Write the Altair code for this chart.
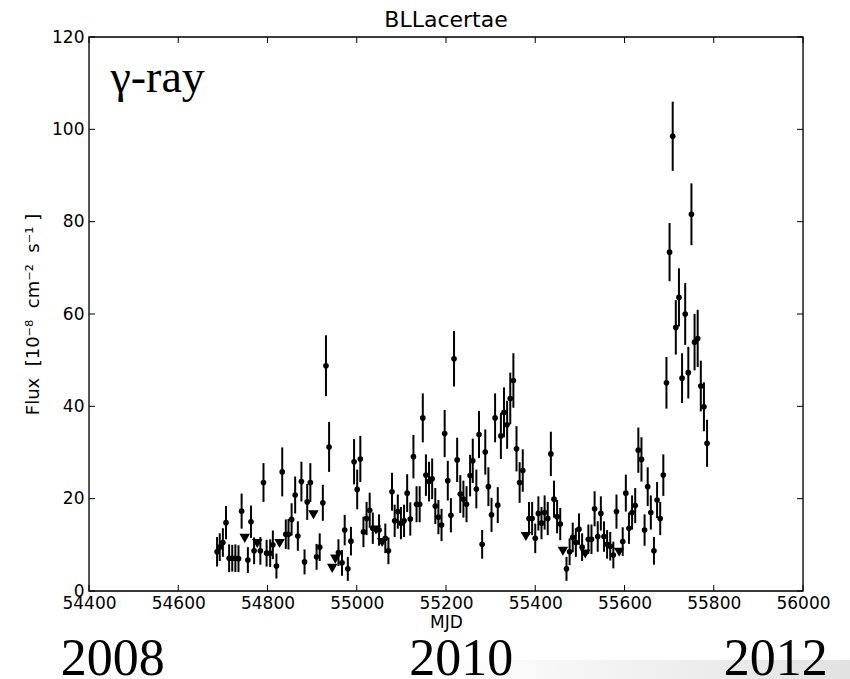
import altair as alt
import pandas as pd

# ---- data ----
det_mjd = [54687, 54693, 54700, 54707, 54714, 54721, 54728, 54735, 54742, 54756,
           54763, 54770, 54784, 54791, 54798, 54806, 54812, 54820, 54833, 54841,
           54847, 54854, 54862, 54868, 54876, 54883, 54889, 54896, 54910, 54917,
           54924, 54931, 54938, 54959, 54967, 54973, 54980, 54987, 54994, 55001,
           55008, 55015, 55022, 55029, 55036, 55050, 55064, 55071, 55079, 55085,
           55092, 55099, 55106, 55113, 55120, 55127, 55134, 55141, 55148, 55155,
           55162, 55169, 55176, 55183, 55190, 55197, 55204, 55211, 55218, 55225,
           55232, 55239, 55246, 55254, 55260, 55268, 55274, 55281, 55288, 55295,
           55302, 55310, 55316, 55323, 55330, 55337, 55344, 55351, 55358, 55365,
           55372, 55386, 55393, 55400, 55407, 55414, 55421, 55428, 55435, 55442,
           55449, 55456, 55470, 55477, 55484, 55491, 55498, 55505, 55519, 55526,
           55533, 55540, 55547, 55554, 55561, 55568, 55575, 55582, 55596, 55603,
           55610, 55617, 55624, 55631, 55638, 55645, 55652, 55659, 55666, 55673,
           55680, 55687, 55694, 55701, 55708, 55715, 55722, 55729, 55736, 55743,
           55750, 55757, 55764, 55771, 55778, 55785]
det_flux = [8.5, 9.5, 10.5, 14.8, 7.1, 7.1, 7.1, 7.0, 17.3, 6.7,
            15.0, 8.7, 8.7, 23.5, 8.2, 8.2, 10.0, 5.4, 25.8, 12.3,
            12.3, 15.5, 20.8, 11.9, 23.7, 6.3, 19.3, 23.5, 7.4, 9.5,
            19.1, 48.8, 31.2, 8.3, 6.1, 13.2, 4.8, 10.8, 28.0, 22.0,
            28.6, 12.8, 15.7, 17.5, 13.6, 13.2, 11.4, 8.7, 21.5, 15.2,
            17.2, 14.7, 15.2, 21.2, 15.6, 29.1, 18.8, 18.8, 37.5, 25.1,
            23.7, 24.3, 18.4, 16.0, 14.3, 34.1, 23.9, 16.4, 50.3, 28.4,
            21.0, 19.9, 18.8, 25.0, 28.2, 22.1, 33.9, 10.1, 30.1, 22.6,
            16.5, 37.5, 18.6, 33.6, 38.7, 36.0, 41.7, 45.6, 30.8, 23.5,
            26.1, 15.7, 15.7, 11.4, 16.8, 14.7, 17.0, 15.7, 29.7, 19.9,
            16.1, 14.5, 4.8, 8.5, 11.6, 10.5, 13.4, 9.5, 11.2, 11.2,
            17.8, 11.8, 16.8, 11.8, 10.1, 9.7, 7.8, 17.2, 10.7, 21.2,
            13.6, 17.0, 18.5, 30.5, 28.5, 13.2, 22.6, 17.0, 8.7, 19.7,
            15.7, 25.1, 45.1, 73.4, 98.5, 57.1, 63.6, 46.1, 60.0, 47.3,
            81.6, 53.9, 54.7, 44.4, 39.9, 32.0]
det_err = [3.2, 3.0, 3.1, 3.6, 3.0, 2.9, 3.0, 2.9, 3.8, 2.8,
           3.5, 2.9, 3.0, 4.2, 2.9, 3.0, 3.1, 2.7, 5.3, 3.2,
           3.3, 3.5, 4.0, 3.2, 4.3, 2.7, 3.9, 4.2, 2.8, 3.0,
           3.9, 6.6, 5.4, 2.9, 2.8, 3.3, 2.6, 3.1, 4.9, 4.3,
           5.0, 3.3, 3.6, 3.8, 3.4, 3.4, 3.2, 2.9, 4.1, 3.5,
           3.7, 3.5, 3.5, 4.1, 3.6, 4.7, 3.9, 3.9, 5.3, 4.5,
           4.3, 4.4, 3.9, 3.7, 3.5, 5.1, 4.3, 3.7, 6.0, 4.8,
           4.1, 4.0, 3.9, 4.5, 4.8, 4.2, 5.1, 3.1, 4.9, 4.2,
           3.7, 5.3, 3.9, 5.0, 5.4, 5.2, 5.6, 5.9, 4.9, 4.4,
           4.6, 3.6, 3.6, 3.2, 3.7, 3.5, 3.7, 3.6, 4.8, 4.0,
           3.6, 3.5, 2.6, 2.9, 3.2, 3.1, 3.4, 3.0, 3.2, 3.2,
           3.8, 3.3, 3.7, 3.3, 3.1, 3.1, 2.9, 3.7, 3.1, 4.0,
           3.4, 3.7, 3.8, 4.9, 4.8, 3.4, 4.2, 3.7, 3.0, 3.9,
           3.6, 4.5, 5.6, 6.3, 7.5, 5.9, 6.3, 5.4, 6.7, 5.6,
           6.7, 6.1, 6.2, 5.5, 5.3, 5.1]

ul_mjd = [54749, 54777, 54827, 54903, 54945, 54952, 55043, 55057, 55379, 55462, 55512, 55588]
ul_flux = [11.4, 10.3, 10.3, 16.5, 4.9, 6.9, 13.2, 10.5, 11.8, 8.6, 8.0, 8.4]

x_ticks = [54400, 54600, 54800, 55000, 55200, 55400, 55600, 55800, 56000]
y_ticks = [0, 20, 40, 60, 80, 100, 120]

year_labels = ["2008", "2010", "2012"]
year_mjd = [54453, 55234, 55939]
year_flux = [-18.2, -18.2, -18.2]

band_label = ["γ-ray"]
band_mjd = [54448]
band_flux = [108.0]

# ---- tables ----
det = pd.DataFrame({"mjd": det_mjd, "flux": det_flux, "err": det_err})
det["lo"] = det["flux"] - det["err"]
det["hi"] = det["flux"] + det["err"]
ul = pd.DataFrame({"mjd": ul_mjd, "flux": ul_flux})
xt = pd.DataFrame({"t": x_ticks})
yt = pd.DataFrame({"t": y_ticks})
years = pd.DataFrame({"label": year_labels, "mjd": year_mjd, "flux": year_flux})
band = pd.DataFrame({"label": band_label, "mjd": band_mjd, "flux": band_flux})

W, H = 714, 554
xs = alt.Scale(domain=[54400, 56000], nice=False, zero=False)
ys = alt.Scale(domain=[0, 120], nice=False)

NB = "\u00a0"
ytitle = f"Flux{NB}{NB}[10⁻⁸{NB}{NB}cm⁻²{NB}{NB}s⁻¹{NB}]"

xaxis = alt.Axis(values=x_ticks, format="d", title="MJD", ticks=False, domain=False,
                 grid=False, labelFont="DejaVu Sans", labelFontSize=17, labelColor="black",
                 labelPadding=4, titleFont="DejaVu Sans", titleFontSize=17,
                 titleFontWeight="normal", titleColor="black", titlePadding=3,
                 labelFlush=False)
yaxis = alt.Axis(values=y_ticks, title=ytitle, ticks=False, domain=False,
                 grid=False, labelFont="DejaVu Sans", labelFontSize=17, labelColor="black",
                 labelPadding=5, titleFont="DejaVu Sans", titleFontSize=18,
                 titleFontWeight="normal", titleColor="black", titlePadding=9,
                 labelFlush=False)

base = alt.Chart(det)

# background gradient band (decoration at the bottom right)
grad = alt.Chart(pd.DataFrame({"a": [0]})).mark_rect(
    color=alt.Gradient(gradient="linear",
                       stops=[alt.GradientStop(color="#ffffff", offset=0),
                              alt.GradientStop(color="#e2e2e2", offset=1)],
                       x1=0, x2=1, y1=0, y2=0)
).encode(x=alt.value(350), x2=alt.value(761), y=alt.value(623), y2=alt.value(642))

frame = alt.Chart(pd.DataFrame({"a": [0]})).mark_rect(
    fill=None, stroke="black", strokeWidth=1.3
).encode(x=alt.value(0), x2=alt.value(W), y=alt.value(0), y2=alt.value(H))

errbars = base.mark_rule(color="black", strokeWidth=2).encode(
    x=alt.X("mjd:Q", scale=xs, axis=xaxis),
    y=alt.Y("lo:Q", scale=ys, axis=yaxis),
    y2="hi:Q",
)
points = base.mark_circle(color="black", opacity=1, size=32).encode(
    x=alt.X("mjd:Q", scale=xs),
    y=alt.Y("flux:Q", scale=ys),
)
uls = alt.Chart(ul).mark_point(shape="triangle-down", filled=True, color="black",
                               opacity=1, size=110).encode(
    x=alt.X("mjd:Q", scale=xs),
    y=alt.Y("flux:Q", scale=ys),
)

tick_len = 6
xt_bot = alt.Chart(xt).mark_rule(color="black", strokeWidth=1).encode(
    x=alt.X("t:Q", scale=xs), y=alt.value(H), y2=alt.value(H - tick_len))
xt_top = alt.Chart(xt).mark_rule(color="black", strokeWidth=1).encode(
    x=alt.X("t:Q", scale=xs), y=alt.value(0), y2=alt.value(tick_len))
yt_left = alt.Chart(yt).mark_rule(color="black", strokeWidth=1).encode(
    y=alt.Y("t:Q", scale=ys), x=alt.value(0), x2=alt.value(tick_len))
yt_right = alt.Chart(yt).mark_rule(color="black", strokeWidth=1).encode(
    y=alt.Y("t:Q", scale=ys), x=alt.value(W), x2=alt.value(W - tick_len))

band_text = alt.Chart(band).mark_text(font="Liberation Serif", fontSize=46, align="left",
                                      baseline="alphabetic", color="black").encode(
    x=alt.X("mjd:Q", scale=xs), y=alt.Y("flux:Q", scale=ys), text="label:N")

year_text = alt.Chart(years).mark_text(font="Liberation Serif", fontSize=52, align="center",
                                       baseline="alphabetic", color="black").encode(
    x=alt.X("mjd:Q", scale=xs), y=alt.Y("flux:Q", scale=ys), text="label:N")

chart = alt.layer(
    grad, errbars, points, uls, xt_bot, xt_top, yt_left, yt_right, frame,
    band_text, year_text
).properties(
    width=W, height=H,
    title=alt.TitleParams("BLLacertae", font="DejaVu Sans", fontSize=22,
                          fontWeight="normal", color="black", anchor="middle", offset=-4),
    padding={"left": 89, "top": 37, "right": 47, "bottom": 88},
    autosize=alt.AutoSizeParams(type="none"),
).configure_view(stroke=None).configure(background="white")

chart.save("out.html", embed_options={"renderer": "svg", "actions": False})
